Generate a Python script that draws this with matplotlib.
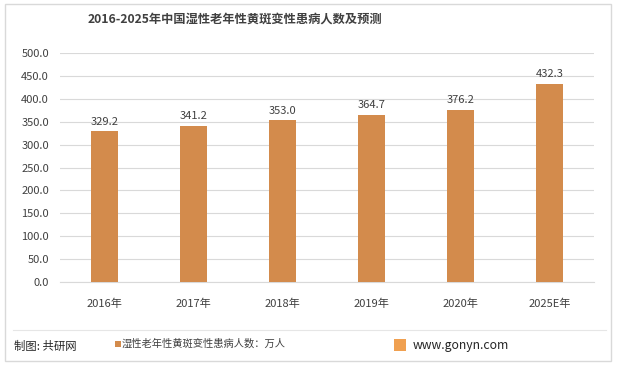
import matplotlib.pyplot as plt
from matplotlib.patches import Rectangle
from matplotlib.lines import Line2D

plt.rcParams['font.family'] = ['Noto Sans CJK SC', 'DejaVu Sans']

years = ["2016年", "2017年", "2018年", "2019年", "2020年", "2025E年"]
patients = [329.2, 341.2, 353.0, 364.7, 376.2, 432.3]
yticks = [0, 50, 100, 150, 200, 250, 300, 350, 400, 450, 500]

bar_color = "#D38B4C"
text_color = "#404040"

fig = plt.figure(figsize=(6.19, 3.67), dpi=100)
W, H = 619, 367
ax = fig.add_axes([60 / W, 1 - 282 / H, 534 / W, (282 - 53) / H])

x = range(len(years))
bars = ax.bar(x, patients, width=0.3, color=bar_color, zorder=3)
for b, v in zip(bars, patients):
    ax.text(b.get_x() + b.get_width() / 2, v + 10, f"{v:.1f}",
            ha="center", va="bottom", fontsize=8, color=text_color)

ax.set_ylim(0, 500)
ax.set_xlim(-0.5, len(years) - 0.5)
ax.set_yticks(yticks)
ax.set_yticklabels([f"{t:.1f}" for t in yticks], fontsize=8, color=text_color)
ax.set_xticks(list(x))
ax.set_xticklabels(years, fontsize=8, color=text_color)
ax.tick_params(axis="y", length=0, pad=8)
ax.tick_params(axis="x", length=0, pad=12)
ax.yaxis.grid(True, color="#D9D9D9", linewidth=0.8, zorder=0)
for s in ax.spines.values():
    s.set_visible(False)
ax.spines["bottom"].set_visible(True)
ax.spines["bottom"].set_color("#D9D9D9")

fig.text(235 / W, 1 - 19 / H, "2016-2025年中国湿性老年性黄斑变性患病人数及预测",
         ha="center", va="center", fontsize=8.8, fontweight="bold", color=text_color)

# outer frame
fig.add_artist(Rectangle((5 / W, 1 - 361 / H), 606 / W, 357 / H, transform=fig.transFigure,
                         fill=False, edgecolor="#D9D9D9", linewidth=1))
# footer separator
fig.add_artist(Line2D([13 / W, 606 / W], [1 - 330 / H, 1 - 330 / H], transform=fig.transFigure,
                      color="#E6E6E6", linewidth=0.8))

fig.text(14 / W, 1 - 346 / H, "制图: 共研网", ha="left", va="center", fontsize=8.2, color="#262626")
fig.add_artist(Rectangle((115 / W, 1 - 347 / H), 6 / W, 6 / H, transform=fig.transFigure,
                         facecolor=bar_color, edgecolor="none"))
fig.text(122 / W, 1 - 344 / H, "湿性老年性黄斑变性患病人数：万人", ha="left", va="center",
         fontsize=7.4, color="#404040")
fig.add_artist(Rectangle((394 / W, 1 - 351 / H), 12 / W, 12 / H, transform=fig.transFigure,
                         facecolor="#F0A050", edgecolor="none"))
fig.text(413 / W, 1 - 345 / H, "www.gonyn.com", ha="left", va="center",
         fontsize=8.8, color="#262626")

fig.savefig("out.png", dpi=100)
